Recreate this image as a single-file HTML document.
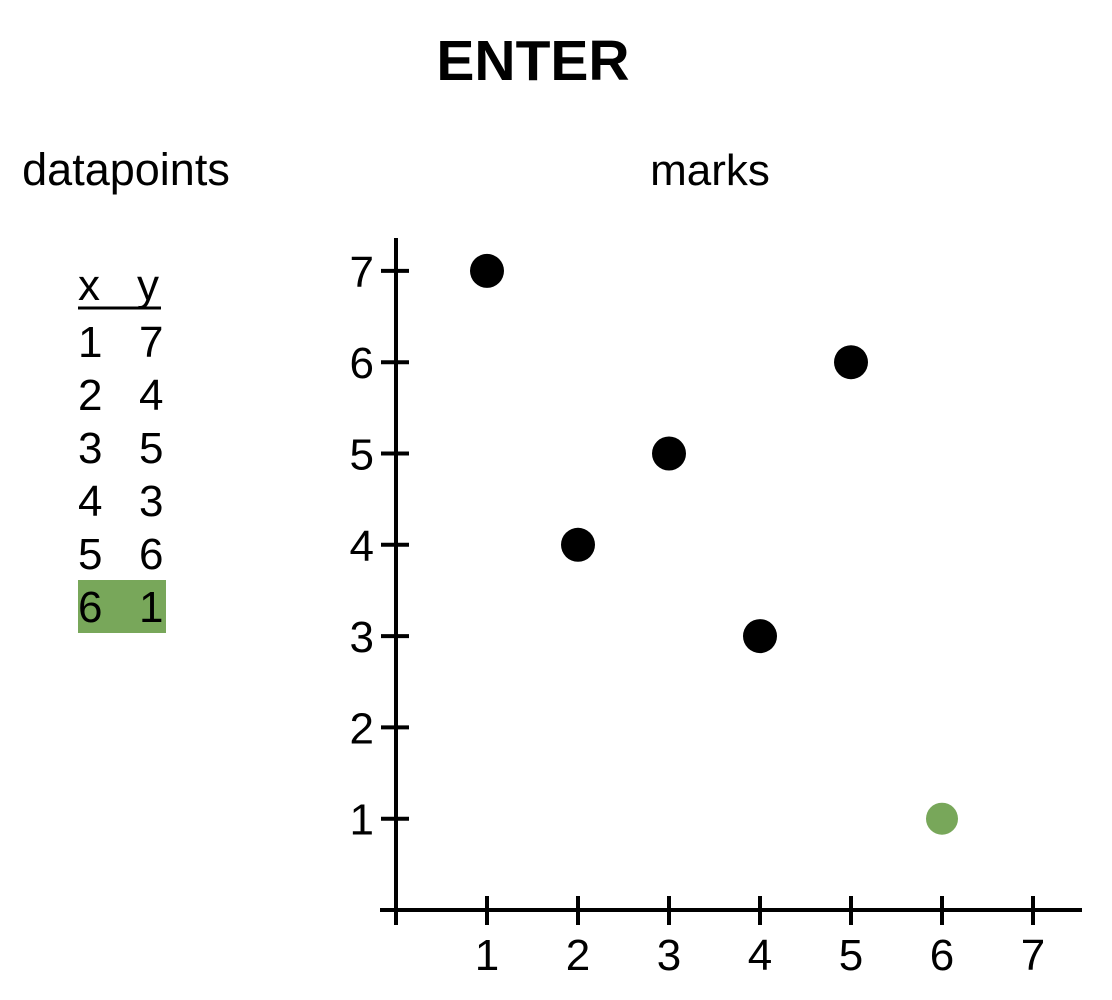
<!DOCTYPE html>
<html><head><meta charset="utf-8"><style>
body{margin:0;background:#fff;}
svg{display:block;font-family:"Liberation Sans",Arial,sans-serif;}
</style></head><body>
<svg id="chart" width="1112" height="1000" viewBox="0 0 1112 1000" xmlns="http://www.w3.org/2000/svg">
<text x="533" y="80" font-size="57" font-weight="bold" text-anchor="middle">ENTER</text>
<text x="126" y="185" font-size="45" text-anchor="middle">datapoints</text>
<text x="710" y="185" font-size="44" text-anchor="middle">marks</text>
<g id="table">
<rect x="78" y="580" width="88" height="53" fill="#78a75a"/>
<text x="78" y="300" font-size="44">x</text>
<text x="137" y="300" font-size="44">y</text>
<line x1="78" y1="308" x2="161" y2="308" stroke="#000" stroke-width="3"/>
</g>
<g id="axes"></g>
<g id="marks"></g>
<script>
const xs=[1,2,3,4,5,6];
const ys=[7,4,5,3,6,1];
const entered=[false,false,false,false,false,true];
const ticks=[1,2,3,4,5,6,7];
const NS="http://www.w3.org/2000/svg";
const sx=v=>396+v*91;
const sy=v=>910-v*91.3;
function mk(tag,attrs,parent){const e=document.createElementNS(NS,tag);for(const k in attrs)e.setAttribute(k,attrs[k]);parent.appendChild(e);return e;}
const table=document.getElementById('table');
xs.forEach((x,i)=>{
  const base=357+i*53;
  const a=mk('text',{x:78,y:base,'font-size':44},table);a.textContent=x;
  
  
  const b=mk('text',{x:139,y:base,'font-size':44},table);b.textContent=ys[i];
  
  
});
const ax=document.getElementById('axes');
let l=mk('line',{x1:396,y1:238,x2:396,y2:925,stroke:'#000','stroke-width':4},ax);


l=mk('line',{x1:380,y1:910,x2:1082,y2:910,stroke:'#000','stroke-width':4},ax);


ticks.forEach(t=>{
  let e=mk('line',{x1:381,y1:sy(t),x2:409,y2:sy(t),stroke:'#000','stroke-width':4},ax);
  
  
  e=mk('text',{x:374,y:sy(t)+16,'font-size':44,'text-anchor':'end'},ax);e.textContent=t;
  
  
  e=mk('line',{x1:sx(t),y1:896,x2:sx(t),y2:925,stroke:'#000','stroke-width':4},ax);
  
  
  e=mk('text',{x:sx(t),y:970,'font-size':44,'text-anchor':'middle'},ax);e.textContent=t;
  
  
});
const mg=document.getElementById('marks');
xs.forEach((x,i)=>{
  const c=mk('circle',{cx:sx(x),cy:sy(ys[i]),r:entered[i]?16:17,fill:entered[i]?'#78a75a':'#000'},mg);
  
  
});
</script>
</svg>
</body></html>
